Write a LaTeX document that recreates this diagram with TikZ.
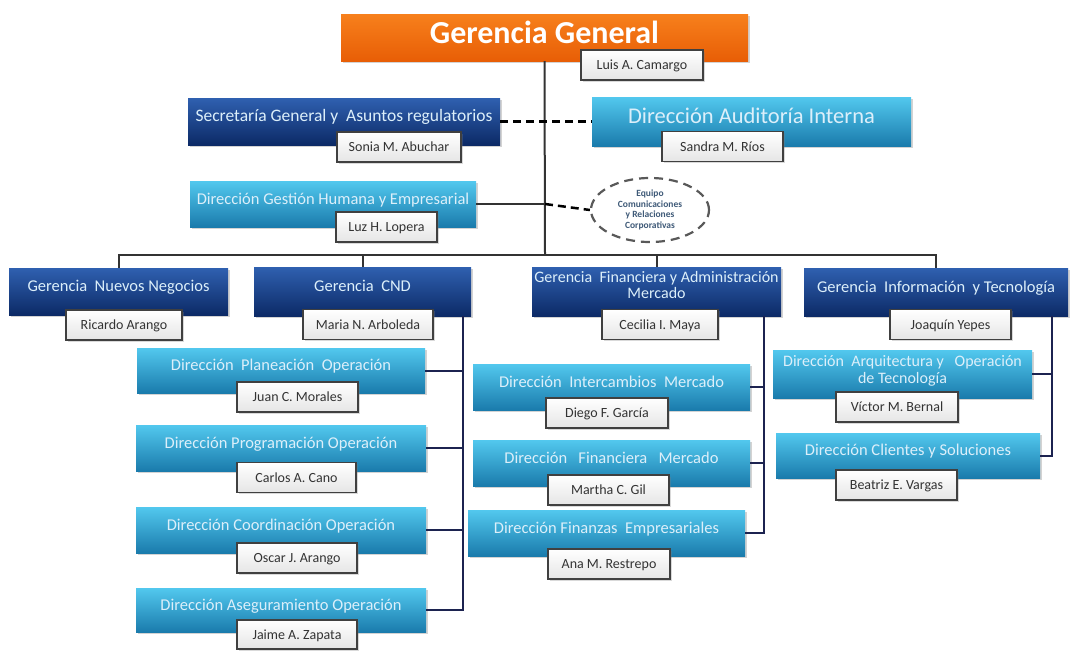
\documentclass[tikz,border=0pt]{standalone}
\usepackage{fontspec}
\setmainfont{Carlito}
\usetikzlibrary{shadows,shapes.geometric}
\definecolor{orgtop}{HTML}{F7801C}
\definecolor{orgbot}{HTML}{E85E06}
\definecolor{dbtop}{HTML}{2F60B0}
\definecolor{dbbot}{HTML}{0C2A66}
\definecolor{lbtop}{HTML}{52C8EE}
\definecolor{lbbot}{HTML}{1A7BAC}
\definecolor{navy}{HTML}{1C2350}
\definecolor{lntxt}{HTML}{DCEFFA}
\definecolor{nmtxt}{HTML}{333333}
\definecolor{eqtxt}{HTML}{3F5A78}
\tikzset{
  boxbase/.style={rectangle, inner sep=0pt, align=center,
    drop shadow={shadow xshift=2pt, shadow yshift=-2pt, opacity=0.35}},
  orgbox/.style={boxbase, top color=orgtop, bottom color=orgbot, text=white,
    font=\fontsize{32}{34}\selectfont\bfseries, text height=24pt, text depth=12pt},
  dbbox/.style={boxbase, top color=dbtop, bottom color=dbbot, text=lntxt,
    font=\fontsize{16.5}{16}\selectfont, text height=11pt, text depth=11pt},
  lbbox/.style={boxbase, top color=lbtop, bottom color=lbbot, text=lntxt,
    font=\fontsize{16.5}{17}\selectfont, text height=11pt, text depth=11pt},
  nmbox/.style={rectangle, inner sep=0pt, top color=white, bottom color=black!10,
    draw=black!75, line width=1.5pt, text=nmtxt, font=\fontsize{14}{15}\selectfont,
    text height=11.5pt, text depth=2.3pt,
    drop shadow={shadow xshift=1.5pt, shadow yshift=-1.5pt, opacity=0.3},
    minimum height=30pt},
  conn/.style={draw=navy, line width=2pt},
  mainln/.style={draw=black!80, line width=2pt},
  dashln/.style={draw=black, line width=2.5pt, dash pattern=on 8pt off 5pt},
}
\begin{document}
\begin{tikzpicture}[x=1pt,y=-1pt]
\useasboundingbox (0,0) rectangle (1073,651);

\coordinate (bus) at (545,255);
\coordinate (cndx) at (463,316);
\coordinate (finx) at (764,316);
\coordinate (infx) at (1052,316);

% ---- boxes
\node[orgbox, minimum width=407pt, minimum height=47pt] (gg) at (544.5,37.5) {Gerencia General};

\node[dbbox, minimum width=312pt, minimum height=47pt, font=\fontsize{17.5}{18}\selectfont] (sec) at (344,121.5) {Secretaría General y~ Asuntos regulatorios};
\node[lbbox, minimum width=319pt, minimum height=49pt, font=\fontsize{22.5}{24}\selectfont, text height=16pt, text depth=12pt] (aud) at (751.5,121.5) {Dirección Auditoría Interna};
\node[lbbox, minimum width=286pt, minimum height=46pt] (ghum) at (333,204) {Dirección Gestión Humana y Empresarial};
\node[ellipse, draw=black!65, line width=2.2pt, dash pattern=on 9pt off 6pt, fill=white,
  minimum width=118pt, minimum height=64pt, inner sep=0pt, align=center, text=eqtxt,
  font=\fontsize{9.5}{10.5}\selectfont\bfseries] (eq) at (650,210) {Equipo\\Comunicaciones\\y Relaciones\\Corporativas};

\node[dbbox, minimum width=219pt, minimum height=47pt] (nn) at (118.5,291.5) {Gerencia~ Nuevos Negocios};
\node[dbbox, minimum width=217pt, minimum height=49pt] (cnd) at (362.5,291.5) {Gerencia~ CND};
\node[dbbox, minimum width=249pt, minimum height=49pt, font=\fontsize{16}{16}\selectfont, text height=25pt] (fin) at (656.5,291.5) {Gerencia~ Financiera y Administración\\Mercado};
\node[dbbox, minimum width=264pt, minimum height=48pt] (inf) at (936,292) {Gerencia~ Información~ y Tecnología};

\node[lbbox, minimum width=288pt, minimum height=45pt] (plan) at (281,370.5) {Dirección~ Planeación~ Operación};
\node[lbbox, minimum width=290pt, minimum height=46pt] (prog) at (281,448) {Dirección Programación Operación};
\node[lbbox, minimum width=290pt, minimum height=46pt] (coord) at (281,530) {Dirección Coordinación Operación};
\node[lbbox, minimum width=290pt, minimum height=44pt] (aseg) at (281,610) {Dirección Aseguramiento Operación};

\node[lbbox, minimum width=277pt, minimum height=46pt] (inter) at (611.5,387) {Dirección~ Intercambios~ Mercado};
\node[lbbox, minimum width=277pt, minimum height=46pt] (finm) at (611.5,463) {Dirección~~ Financiera~~ Mercado};
\node[lbbox, minimum width=277pt, minimum height=46pt] (finz) at (606.5,533) {Dirección Finanzas~ Empresariales};

\node[lbbox, minimum width=259pt, minimum height=48pt, font=\fontsize{16}{17}\selectfont, text height=29pt] (arq) at (902.5,374) {Dirección~ Arquitectura y~~ Operación\\de Tecnología};
\node[lbbox, minimum width=264pt, minimum height=45pt] (cli) at (908,455.5) {Dirección Clientes y Soluciones};

% ---- connectors
\draw[mainln] (gg.south) -- (bus);
\draw[mainln] (nn.north) |- (bus) -| (inf.north);
\draw[mainln] (cnd.north) -- (cnd.north |- bus);
\draw[mainln] (fin.north) -- (fin.north |- bus);
\draw[dashln] (sec.east) -- (aud.west);
\draw[mainln] (ghum.east) -- (ghum.east -| bus);
\draw[dashln] (ghum.east -| bus) -- (eq.west);

\draw[conn] (cndx) |- (aseg.east);
\draw[conn] (plan.east) -- (plan.east -| cndx);
\draw[conn] (prog.east) -- (prog.east -| cndx);
\draw[conn] (coord.east) -- (coord.east -| cndx);

\draw[conn] (finx) |- (finz.east);
\draw[conn] (inter.east) -- (inter.east -| finx);
\draw[conn] (finm.east) -- (finm.east -| finx);

\draw[conn] (infx) |- (cli.east);
\draw[conn] (arq.east) -- (arq.east -| infx);

% ---- name boxes
\node[nmbox, minimum width=122pt] (luis) at (642,65) {Luis A. Camargo};
\node[nmbox, minimum width=124pt] (sonia) at (399,147) {Sonia M. Abuchar};
\node[nmbox, minimum width=121pt] (sandra) at (722.5,146.5) {Sandra M. Ríos};
\node[nmbox, minimum width=101pt] (luz) at (386.5,227) {Luz H. Lopera};
\node[nmbox, minimum width=116pt] (ricardo) at (124,325) {Ricardo Arango};
\node[nmbox, minimum width=130pt] (maria) at (368,324.5) {Maria N. Arboleda};
\node[nmbox, minimum width=116pt] (cecilia) at (660,324.5) {Cecilia I. Maya};
\node[nmbox, minimum width=121pt] (joaquin) at (950.5,324.5) {Joaquín Yepes};
\node[nmbox, minimum width=121pt] (juan) at (297.5,397) {Juan C. Morales};
\node[nmbox, minimum width=119pt] (carlos) at (296.5,477.5) {Carlos A. Cano};
\node[nmbox, minimum width=120pt] (oscar) at (297,558) {Oscar J. Arango};
\node[nmbox, minimum width=120pt, minimum height=29pt] (jaime) at (297,634.5) {Jaime A. Zapata};
\node[nmbox, minimum width=122pt] (diego) at (607,413) {Diego F. García};
\node[nmbox, minimum width=121pt] (martha) at (608.5,490) {Martha C. Gil};
\node[nmbox, minimum width=122pt] (ana) at (609,564) {Ana M. Restrepo};
\node[nmbox, minimum width=122pt] (victor) at (897,407) {Víctor M. Bernal};
\node[nmbox, minimum width=121pt] (beatriz) at (896.5,485) {Beatriz E. Vargas};
\end{tikzpicture}
\end{document}
